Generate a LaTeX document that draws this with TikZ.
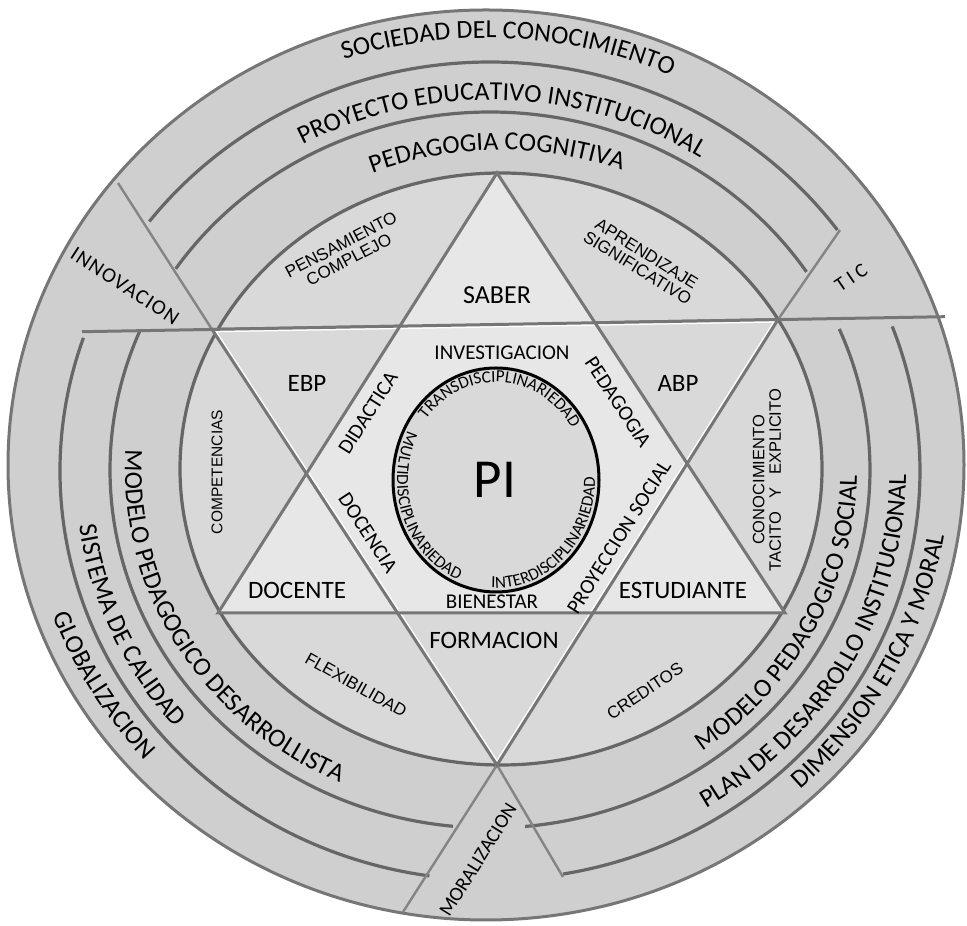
\documentclass[tikz,border=0pt]{standalone}
\usepackage{fontspec}
\setmainfont{Carlito}
\newfontfamily\arialfont{Liberation Sans}
\usepackage{tikz}
\usetikzlibrary{decorations.text}

\definecolor{ringgray}{HTML}{CFCFCF}
\definecolor{innergray}{HTML}{D9D9D9}
\definecolor{hexgray}{HTML}{E7E7E7}
\definecolor{linegray}{HTML}{767676}
\definecolor{arcgray}{HTML}{666666}
\definecolor{sepgray}{HTML}{848484}

\newcommand\setfs[1]{\fontsize{#1}{#1}\selectfont}

\tikzset{%
   ringline/.style={draw=arcgray, line width=3.2pt},
   triline/.style={draw=linegray, line width=3pt, line join=miter},
   sepline/.style={draw=sepgray, line width=2.4pt},
   ringtext/.style={
      decorate,
      decoration={text along path, text align=center, text={|\setfs{26}|#1}}
   },
   pitext/.style={
      decorate,
      decoration={text along path, text align=center, text={|\setfs{17}|#1}}
   },
   biglbl/.style={inner sep=0pt, font=\setfs{25}},
   midlbl/.style={inner sep=0pt, font=\setfs{21}},
   arlbl/.style={inner sep=0pt, align=center, font=\arialfont\setfs{17}},
}

\begin{document}
\begin{tikzpicture}[x=1pt, y=1pt]
   \useasboundingbox (0,0) rectangle (967,926);
   % star corners and line ends
   \coordinate (A) at (497,753);
   \coordinate (BL) at (218,313);
   \coordinate (BR) at (785,313);
   \coordinate (TL) at (212,596.6);
   \coordinate (TR) at (778,606.4);
   \coordinate (V) at (497,161);
   \coordinate (H1) at (82,594.3);
   \coordinate (H2) at (945,609.3);
   \coordinate (S1) at (118,743);
   \coordinate (S2) at (840,696);
   \coordinate (S3) at (563,49);
   \coordinate (S4) at (403,14);

   % rings
   \filldraw[fill=ringgray, draw=linegray, line width=3pt]
      (486,461) ellipse [x radius=478, y radius=455];
   \filldraw[fill=innergray, ringline]
      (501,457) ellipse [x radius=321, y radius=296];
   \draw[ringline] (490,455) ++(36.1:430 and 409)
      arc[start angle=36.1, end angle=142.4, x radius=430, y radius=409];
   \draw[ringline] (490,456) ++(33.6:380 and 358)
      arc[start angle=33.6, end angle=145.8, x radius=380, y radius=358];
   \draw[ringline] (490,455) ++(161:430 and 409)
      arc[start angle=161, end angle=261.9, x radius=430, y radius=409];
   \draw[ringline] (490,456) ++(156.9:380 and 358)
      arc[start angle=156.9, end angle=264.4, x radius=380, y radius=358];
   \draw[ringline] (490,455) ++(-80.2:430 and 409)
      arc[start angle=-80.2, end angle=20.7, x radius=430, y radius=409];
   \draw[ringline] (490,456) ++(-84.7:380 and 358)
      arc[start angle=-84.7, end angle=23.2, x radius=380, y radius=358];

   % separators
   \draw[sepline] (S1) -- (TL);
   \draw[sepline] (S2) -- (TR);
   \draw[sepline] (V) -- (S3);
   \draw[sepline] (V) -- (S4);
   \draw[triline] (H1) -- (H2);

   % star
   \fill[hexgray] (A) -- (BL) -- (BR) -- cycle;
   \begin{scope}
      \clip (TL) -- (TR) -- (V) -- cycle;
      \draw[white, line width=6pt] (TL) -- (TR) -- (V) -- cycle;
   \end{scope}
   \draw[triline] (A) -- (BL) -- (BR) -- cycle;
   \draw[triline] (TL) -- (TR) -- (V) -- cycle;

   % PI circle
   \filldraw[fill=innergray, draw=black, line width=3pt]
      (496,446) ellipse [x radius=103, y radius=112];
   \path[pitext={TRANSDISCIPLINARIEDAD}] (496,446) ++(156.8:89 and 98)
      arc[start angle=156.8, end angle=16.8, x radius=89, y radius=98];
   \path[pitext={MULTIDISCIPLINARIEDAD}] (496,446) ++(131:99 and 108)
      arc[start angle=131, end angle=271, x radius=99, y radius=108];
   \path[pitext={INTERDISCIPLINARIEDAD}] (496,446) ++(243.5:99 and 108)
      arc[start angle=243.5, end angle=383.5, x radius=99, y radius=108];
   \node[inner sep=0pt, font=\setfs{55}] (pi) at (495,446) {PI};

   % ring texts
   \path[ringtext={SOCIEDAD DEL CONOCIMIENTO}] (486,461) ++(137:450 and 427)
      arc[start angle=137, end angle=37, x radius=450, y radius=427];
   \path[ringtext={PROYECTO EDUCATIVO INSTITUCIONAL}] (490,456) ++(148:392 and 370)
      arc[start angle=148, end angle=28, x radius=392, y radius=370];
   \path[ringtext={PEDAGOGIA COGNITIVA}] (501,457) ++(140.7:344 and 319)
      arc[start angle=140.7, end angle=40.7, x radius=344, y radius=319];
   \path[ringtext={GLOBALIZACION}] (486,461) ++(150.3:461 and 438)
      arc[start angle=150.3, end angle=270.3, x radius=461, y radius=438];
   \path[ringtext={SISTEMA DE CALIDAD}] (490,455) ++(143.6:415 and 394)
      arc[start angle=143.6, end angle=263.6, x radius=415, y radius=394];
   \path[ringtext={MODELO PEDAGOGICO DESARROLLISTA}] (490,456) ++(150.5:365 and 343)
      arc[start angle=150.5, end angle=270.5, x radius=365, y radius=343];
   \path[ringtext={MODELO PEDAGOGICO SOCIAL}] (490,456) ++(-87:367 and 345)
      arc[start angle=-87, end angle=33, x radius=367, y radius=345];
   \path[ringtext={PLAN DE DESARROLLO INSTITUCIONAL}] (490,455) ++(-89:416 and 395)
      arc[start angle=-89, end angle=31, x radius=416, y radius=395];
   \path[ringtext={DIMENSION ETICA Y MORAL}] (486,461) ++(-87.5:464 and 441)
      arc[start angle=-87.5, end angle=32.5, x radius=464, y radius=441];

   % labels in the star
   \node[inner sep=0pt, font=\setfs{26}] (saber) at (497,631) {SABER};
   \node[biglbl] (ebp) at (307,543) {EBP};
   \node[biglbl] (abp) at (678,543) {ABP};
   \node[biglbl] (docente) at (297,336) {DOCENTE};
   \node[biglbl] (estudiante) at (683,336) {ESTUDIANTE};
   \node[biglbl] (formacion) at (494,286) {FORMACION};
   \node[midlbl] (investigacion) at (502,573) {INVESTIGACION};
   \node[midlbl] (bienestar) at (492,324) {BIENESTAR};
   \node[midlbl, rotate=57.6] (didactica) at (368,513) {DIDACTICA};
   \node[midlbl, rotate=-56.8] (docencia) at (368,393) {DOCENCIA};
   \node[midlbl, rotate=-56.8] (pedagogia) at (618,524) {PEDAGOGIA};
   \node[midlbl, rotate=57.7] (proyeccion) at (619,389) {PROYECCION SOCIAL};

   % labels between star and rings
   \node[arlbl, rotate=27.6] (pensamiento) at (345,674) {PENSAMIENTO\\COMPLEJO};
   \node[arlbl, rotate=-32] (aprendizaje) at (642,665) {APRENDIZAJE\\SIGNIFICATIVO};
   \node[arlbl, font=\arialfont\setfs{15.5}, rotate=90] (competencias) at (217,454) {COMPETENCIAS};
   \node[arlbl, font=\arialfont\setfs{16.5}, rotate=90] (conocimiento) at (767,446)
      {CONOCIMIENTO\\TACITO\hspace{0.8em}Y\hspace{0.8em}EXPLICITO};
   \node[arlbl, rotate=-29.5] (flexibilidad) at (356,241) {FLEXIBILIDAD};
   \node[arlbl, rotate=33.7] (creditos) at (645,235) {CREDITOS};

   % labels on the separators
   \node[inner sep=0pt, font=\setfs{21}\addfontfeature{LetterSpace=6}, rotate=-33] (innovacion) at (125,640) {INNOVACION};
   \node[inner sep=0pt, font=\setfs{20}, rotate=34] (tic) at (851,648) {T I C};
   \node[inner sep=0pt, font=\setfs{20}, rotate=58] (moralizacion) at (478,66) {MORALIZACION};
\end{tikzpicture}
\end{document}
